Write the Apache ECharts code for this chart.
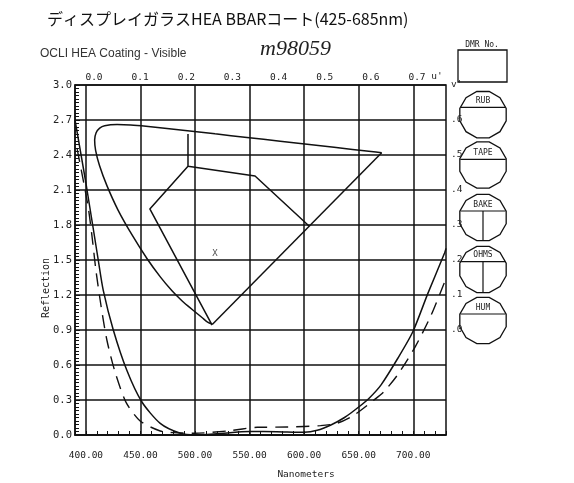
<!DOCTYPE html>
<html><head><meta charset="utf-8">
<script src="https://cdn.jsdelivr.net/npm/echarts@6/dist/echarts.min.js"></script>
<style>html,body{margin:0;padding:0;background:#fff}#c{width:574px;height:483px}</style>
</head><body><div id="c"></div>
<script>
// ---- data ----
const nmTicks = [400, 450, 500, 550, 600, 650, 700];

// solid reflection curve (nm, %)
const solidNm = [390, 400, 411.3, 415.9, 425.1, 437.4, 451.2, 468.1, 486.5, 500, 520, 550, 575, 600, 612, 624.5, 637, 650, 660, 670.5, 686, 699.6, 713.4, 728.7, 730];
const solidR  = [2.70, 2.16, 1.50, 1.24, 0.90, 0.557, 0.285, 0.10, 0.015, 0.0, 0.01, 0.03, 0.028, 0.023, 0.04, 0.086, 0.15, 0.24, 0.32, 0.43, 0.66, 0.885, 1.214, 1.56, 1.60];

// dashed reflection curve (nm, %)
const dashNm = [392, 401.8, 405.5, 409.2, 413.8, 419.3, 426.7, 436.8, 449.7, 468.1, 480, 500, 530, 557, 585, 615, 630, 645.6, 664, 673, 686, 702, 716, 727, 730];
const dashR  = [2.45, 1.97, 1.71, 1.41, 1.11, 0.81, 0.54, 0.28, 0.12, 0.034, 0.02, 0.015, 0.035, 0.066, 0.068, 0.08, 0.10, 0.17, 0.30, 0.37, 0.52, 0.76, 1.02, 1.27, 1.34];

// chromaticity inset (u', v')
const locusU = [0.2568, 0.2557, 0.2461, 0.2347, 0.2161, 0.2033, 0.1877, 0.1690, 0.1441, 0.1147, 0.0828, 0.0521, 0.0282, 0.0119, 0.0035, 0.0014, 0.0046, 0.0123, 0.0231, 0.0501, 0.0792, 0.1127, 0.1531, 0.2026, 0.2623, 0.3315, 0.4035, 0.5203, 0.6005, 0.6234];
const locusV = [0.0166, 0.0159, 0.0226, 0.0350, 0.0549, 0.0688, 0.0871, 0.1120, 0.1510, 0.2044, 0.2708, 0.3427, 0.4117, 0.4698, 0.5131, 0.5432, 0.5638, 0.5770, 0.5837, 0.5868, 0.5856, 0.5821, 0.5766, 0.5694, 0.5604, 0.5501, 0.5393, 0.5219, 0.5099, 0.5065];
const purpleU = [0.6234, 0.2568];
const purpleV = [0.5065, 0.0166];
const polyAU = [0.2037, 0.2037, 0.349, 0.466];
const polyAV = [0.560, 0.468, 0.440, 0.297];
const polyBU = [0.2037, 0.121, 0.256];
const polyBV = [0.468, 0.346, 0.014];
const markU = [0.262];
const markV = [0.217];

const formLabels = ['RUB', 'TAPE', 'BAKE', 'OHMS', 'HUM'];

// ---- build ----
const zip = (a, b) => a.map((v, i) => [v, b[i]]);
const MONO = '"DejaVu Sans Mono", monospace';
const INK = '#111';

// form (decorative) layout
const formCx = 483, formR = 24;
const formCy = [114.7, 165, 217.5, 269.5, 320.5];
const formDy = [-7.4, -5.7, -6.5, -7.8, -6.5];
const formSplit = [false, false, true, true, false];
const graphic = [];
graphic.push({type: 'rect', shape: {x: 458, y: 50, width: 49, height: 32}, style: {fill: 'none', stroke: INK, lineWidth: 1.3}});
graphic.push({type: 'text', x: 482, y: 45, style: {text: 'DMR No.', font: '8px ' + MONO, fill: '#222', textAlign: 'center', textVerticalAlign: 'middle'}});
formLabels.forEach((lab, i) => {
  const cy = formCy[i], pts = [];
  for (let k = 0; k < 12; k++) {
    const a = (k * 30 + 15) * Math.PI / 180;
    pts.push([formCx + formR * Math.cos(a), cy + formR * Math.sin(a)]);
  }
  graphic.push({type: 'polygon', shape: {points: pts}, style: {fill: 'none', stroke: INK, lineWidth: 1.3}});
  const dy = formDy[i];
  const w = Math.sqrt(formR * formR - dy * dy) * 0.975;
  graphic.push({type: 'line', shape: {x1: formCx - w, y1: cy + dy, x2: formCx + w, y2: cy + dy}, style: {stroke: INK, lineWidth: 1.2}});
  if (formSplit[i]) {
    graphic.push({type: 'line', shape: {x1: formCx, y1: cy + dy, x2: formCx, y2: cy + formR * 0.97}, style: {stroke: INK, lineWidth: 1.2}});
  }
  graphic.push({type: 'text', x: formCx, y: cy + dy - 6.5, style: {text: lab, font: '8px ' + MONO, fill: '#222', textAlign: 'center', textVerticalAlign: 'middle'}});
});
graphic.push({type: 'text', x: 46, y: 288, rotation: Math.PI / 2, style: {text: 'Reflection', font: '10px ' + MONO, fill: '#222', textAlign: 'center', textVerticalAlign: 'middle'}});
graphic.push({type: 'text', x: 437, y: 77, style: {text: "u'", font: '9.5px ' + MONO, fill: '#222', textAlign: 'center', textVerticalAlign: 'middle'}});

const option = {
  animation: false,
  backgroundColor: '#fff',
  title: [
    {text: 'ディスプレイガラスHEA BBARコート(425-685nm)', left: 47, top: 11, padding: 0,
     textStyle: {fontFamily: '"Noto Sans CJK JP"', fontSize: 16, fontWeight: 'normal', color: '#111'}},
    {text: 'OCLI HEA Coating - Visible', left: 40, top: 48, padding: 0,
     textStyle: {fontFamily: '"Liberation Sans", sans-serif', fontSize: 12, fontWeight: 'normal', color: '#333'}},
    {text: 'm98059', left: 260, top: 38, padding: 0,
     textStyle: {fontFamily: '"Liberation Serif", serif', fontStyle: 'italic', fontSize: 22, fontWeight: 'normal', color: '#222'}}
  ],
  grid: [
    {left: 75, right: 128, top: 85, bottom: 48, show: true, borderColor: INK, borderWidth: 1.5, backgroundColor: 'transparent',
     containLabel: false, outerBoundsMode: 'none'},
    {left: 94, right: 157, top: 85, bottom: 48, containLabel: false, outerBoundsMode: 'none'}
  ],
  xAxis: [
    {gridIndex: 0, type: 'value', min: 390, max: 730, interval: 10,
     axisLine: {lineStyle: {color: INK, width: 1.5}},
     axisTick: {inside: true, length: 4, lineStyle: {color: INK, width: 1}},
     axisLabel: {formatter: v => nmTicks.includes(v) ? v.toFixed(2) : '', fontFamily: MONO, fontSize: 9.5, color: '#222', margin: 16},
     splitLine: {show: false},
     name: 'Nanometers', nameLocation: 'middle', nameGap: 35,
     nameTextStyle: {fontFamily: MONO, fontSize: 9.5, color: '#222', padding: [0, 0, 0, 91]}},
    {gridIndex: 1, type: 'value', position: 'top', min: 0, max: 0.7, interval: 0.1,
     axisLine: {show: false}, axisTick: {show: false}, splitLine: {show: false},
     axisLabel: {formatter: v => v.toFixed(1), fontFamily: MONO, fontSize: 9.5, color: '#222', margin: 2}}
  ],
  yAxis: [
    {gridIndex: 0, type: 'value', min: 0, max: 3, interval: 0.3,
     axisLine: {show: true, lineStyle: {color: INK, width: 1.5}},
     axisTick: {show: true, inside: true, length: 5, lineStyle: {color: INK, width: 1}},
     minorTick: {show: true, splitNumber: 10, length: 4, lineStyle: {color: INK, width: 1}},
     splitLine: {show: true, lineStyle: {color: INK, width: 1.5}},
     axisLabel: {formatter: v => v.toFixed(1), fontFamily: MONO, fontSize: 10.5, color: '#222', margin: 3}},
    {gridIndex: 1, type: 'value', position: 'right', offset: 29, min: -0.3, max: 0.7, interval: 0.1,
     axisLine: {show: false}, axisTick: {show: false}, splitLine: {show: false},
     axisLabel: {formatter: v => { if (v < -0.001) return ''; if (v > 0.65) return "v'"; return '.' + Math.round(v * 10); },
                 fontFamily: MONO, fontSize: 9.5, color: '#222', margin: 5}}
  ],
  series: [
    {type: 'line', xAxisIndex: 0, yAxisIndex: 0, data: [], silent: true,
     markLine: {silent: true, symbol: 'none', label: {show: false}, animation: false,
                lineStyle: {color: INK, width: 1.5, type: 'solid'},
                data: nmTicks.map(v => ({xAxis: v}))}},
    {name: 'solid', type: 'line', xAxisIndex: 0, yAxisIndex: 0, data: zip(solidNm, solidR), showSymbol: false, symbol: 'none',
     smooth: 0.25, lineStyle: {color: INK, width: 1.5}},
    {name: 'dashed', type: 'line', xAxisIndex: 0, yAxisIndex: 0, data: zip(dashNm, dashR), showSymbol: false, symbol: 'none',
     smooth: 0.25, lineStyle: {color: INK, width: 1.4, type: [13, 8]}},
    {name: 'locus', type: 'line', xAxisIndex: 1, yAxisIndex: 1, data: zip(locusU, locusV), showSymbol: false, symbol: 'none',
     smooth: 0.25, clip: false, lineStyle: {color: INK, width: 1.5}},
    {name: 'purple', type: 'line', xAxisIndex: 1, yAxisIndex: 1, data: zip(purpleU, purpleV), showSymbol: false, symbol: 'none',
     clip: false, lineStyle: {color: INK, width: 1.5}},
    {name: 'polyA', type: 'line', xAxisIndex: 1, yAxisIndex: 1, data: zip(polyAU, polyAV), showSymbol: false, symbol: 'none',
     clip: false, lineStyle: {color: INK, width: 1.5}},
    {name: 'polyB', type: 'line', xAxisIndex: 1, yAxisIndex: 1, data: zip(polyBU, polyBV), showSymbol: false, symbol: 'none',
     clip: false, lineStyle: {color: INK, width: 1.5}},
    {name: 'mark', type: 'scatter', xAxisIndex: 1, yAxisIndex: 1, data: zip(markU, markV), symbolSize: 1,
     itemStyle: {color: 'transparent'},
     label: {show: true, position: 'inside', formatter: 'X', fontFamily: MONO, fontSize: 9, color: '#222'}}
  ],
  graphic: graphic
};
const chart = echarts.init(document.getElementById('c'), null, {renderer: 'canvas'});
chart.setOption(option);
</script>
</body></html>
